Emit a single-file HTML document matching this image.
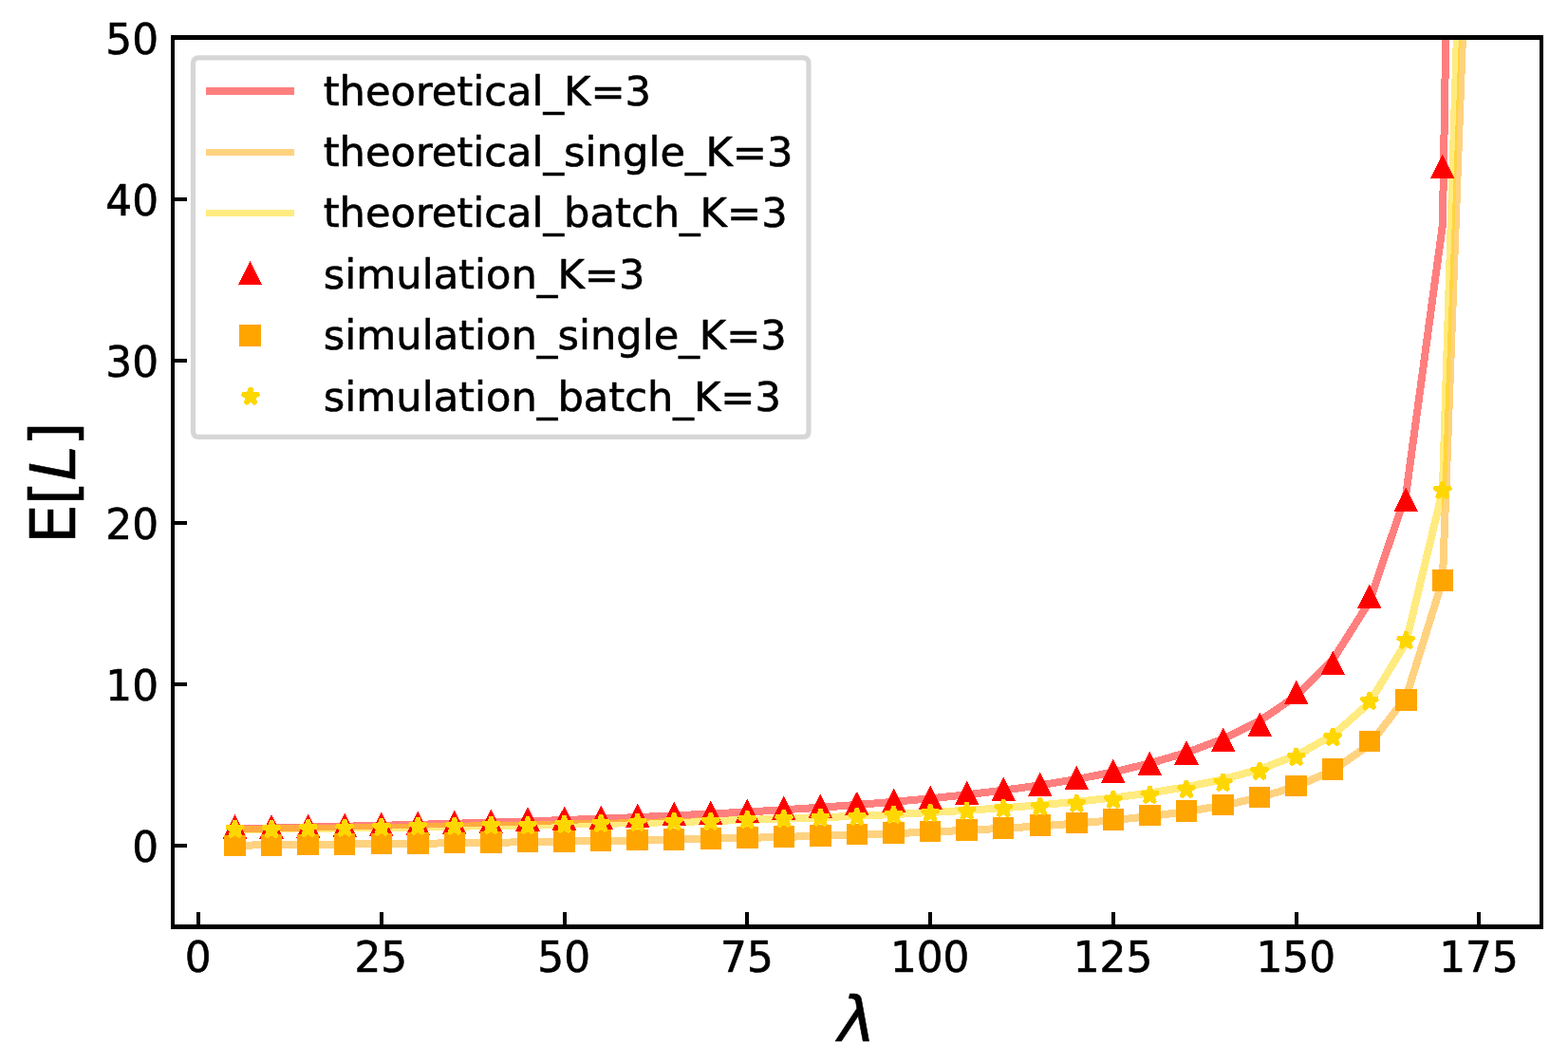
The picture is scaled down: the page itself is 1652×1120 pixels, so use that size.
<!DOCTYPE html>
<html lang="en"><head><meta charset="utf-8"><title>E[L] vs λ</title>
<style>html,body{margin:0;padding:0;background:#fff;}body{width:1652px;height:1120px;overflow:hidden;}svg{display:block;}text{font-family:"DejaVu Sans","Liberation Sans",sans-serif;fill:#000;stroke:#000;stroke-width:0.6px;stroke-linejoin:round;}.t{font-size:43.75px;}.l{font-size:66.67px;}</style></head><body>
<svg width="1652" height="1120" viewBox="0 0 1652 1120">
<rect width="1652" height="1120" fill="#fff"/>
<defs><clipPath id="ax"><rect x="182" y="39.5" width="1442" height="937"/></clipPath></defs>
<g clip-path="url(#ax)" fill="none" stroke-width="8" stroke-linejoin="round" stroke-linecap="square" stroke-opacity="0.5" shape-rendering="crispEdges">
<polyline stroke="#ff0000" points="247.55,873.2 286.1,872.42 324.66,871.6 363.21,870.73 401.77,869.8 440.33,868.81 478.88,867.74 517.44,866.6 555.99,865.37 594.55,864.05 633.11,862.62 671.66,861.06 710.22,859.37 748.78,857.51 787.33,855.48 825.89,853.23 864.44,850.74 903,847.96 941.56,844.84 980.11,841.32 1018.67,837.3 1057.22,832.69 1095.78,827.32 1134.34,821.01 1172.89,813.47 1211.45,804.32 1250.01,792.97 1288.56,778.53 1327.12,759.53 1365.67,733.39 1404.23,695.19 1442.79,634.05 1481.34,520.43 1519.9,236.88 1558.45,-2038.94"/>
<polyline stroke="#ffa500" points="247.55,890.68 286.1,890.34 324.66,889.98 363.21,889.6 401.77,889.19 440.33,888.76 478.88,888.29 517.44,887.79 555.99,887.25 594.55,886.66 633.11,886.03 671.66,885.34 710.22,884.59 748.78,883.77 787.33,882.87 825.89,881.88 864.44,880.77 903,879.54 941.56,878.16 980.11,876.59 1018.67,874.81 1057.22,872.76 1095.78,870.37 1134.34,867.57 1172.89,864.22 1211.45,860.15 1250.01,855.11 1288.56,848.7 1327.12,840.26 1365.67,828.67 1404.23,811.76 1442.79,784.76 1481.34,734.8 1519.9,611.4 1558.45,-437.52"/>
<polyline stroke="#ffd700" points="247.55,873.83 286.1,873.4 324.66,872.94 363.21,872.45 401.77,871.92 440.33,871.37 478.88,870.77 517.44,870.13 555.99,869.45 594.55,868.71 633.11,867.91 671.66,867.04 710.22,866.09 748.78,865.06 787.33,863.92 825.89,862.67 864.44,861.29 903,859.74 941.56,858.01 980.11,856.05 1018.67,853.81 1057.22,851.25 1095.78,848.27 1134.34,844.76 1172.89,840.57 1211.45,835.49 1250.01,829.18 1288.56,821.15 1327.12,810.58 1365.67,796.04 1404.23,774.75 1442.79,740.61 1481.34,676.95 1519.9,516.8 1558.45,-710.1"/>
</g>
<g clip-path="url(#ax)" stroke-width="4.17" shape-rendering="crispEdges">
<path fill="#ff0000" stroke="#ff0000" stroke-width="4.3" stroke-linejoin="miter" stroke-miterlimit="10" d="M247.55 863.03L238.17 881.78L256.92 881.78ZM286.1 863.03L276.73 881.78L295.48 881.78ZM324.66 862.23L315.28 880.98L334.03 880.98ZM363.21 861.23L353.84 879.98L372.59 879.98ZM401.77 860.33L392.4 879.08L411.15 879.08ZM440.33 859.33L430.95 878.08L449.7 878.08ZM478.88 858.43L469.51 877.18L488.26 877.18ZM517.44 857.43L508.06 876.18L526.81 876.18ZM555.99 855.23L546.62 873.98L565.37 873.98ZM594.55 854.23L585.18 872.98L603.93 872.98ZM633.11 853.33L623.73 872.08L642.48 872.08ZM671.66 851.33L662.29 870.08L681.04 870.08ZM710.22 849.23L700.84 867.98L719.59 867.98ZM748.78 848.33L739.4 867.08L758.15 867.08ZM787.33 846.33L777.96 865.08L796.71 865.08ZM825.89 843.33L816.51 862.08L835.26 862.08ZM864.44 841.23L855.07 859.98L873.82 859.98ZM903 838.33L893.62 857.08L912.38 857.08ZM941.56 835.33L932.18 854.08L950.93 854.08ZM980.11 832.33L970.74 851.08L989.49 851.08ZM1018.67 827.23L1009.29 845.98L1028.04 845.98ZM1057.22 823.33L1047.85 842.08L1066.6 842.08ZM1095.78 818.23L1086.41 836.98L1105.16 836.98ZM1134.34 811.23L1124.96 829.98L1143.71 829.98ZM1172.89 804.12L1163.52 822.88L1182.27 822.88ZM1211.45 796.23L1202.07 814.98L1220.82 814.98ZM1250.01 785.23L1240.63 803.98L1259.38 803.98ZM1288.56 771.23L1279.19 789.98L1297.94 789.98ZM1327.12 755.23L1317.74 773.98L1336.49 773.98ZM1365.67 721.23L1356.3 739.98L1375.05 739.98ZM1404.23 690.23L1394.85 708.98L1413.6 708.98ZM1442.79 620.23L1433.41 638.98L1452.16 638.98ZM1481.34 518.23L1471.97 536.98L1490.72 536.98ZM1519.9 167.12L1510.52 185.88L1529.27 185.88Z"/>
<path fill="#ffa500" stroke="#ffa500" stroke-linejoin="miter" d="M238.38 881.68h18.34v18.34h-18.34ZM276.93 881.43h18.34v18.34h-18.34ZM315.49 880.68h18.34v18.34h-18.34ZM354.04 880.33h18.34v18.34h-18.34ZM392.6 879.83h18.34v18.34h-18.34ZM431.16 879.38h18.34v18.34h-18.34ZM469.71 878.93h18.34v18.34h-18.34ZM508.27 878.43h18.34v18.34h-18.34ZM546.82 877.73h18.34v18.34h-18.34ZM585.38 877.23h18.34v18.34h-18.34ZM623.94 876.23h18.34v18.34h-18.34ZM662.49 875.73h18.34v18.34h-18.34ZM701.05 875.23h18.34v18.34h-18.34ZM739.61 874.23h18.34v18.34h-18.34ZM778.16 873.31h18.34v18.34h-18.34ZM816.72 872.32h18.34v18.34h-18.34ZM855.27 871.23h18.34v18.34h-18.34ZM893.83 869.73h18.34v18.34h-18.34ZM932.39 868.33h18.34v18.34h-18.34ZM970.94 866.73h18.34v18.34h-18.34ZM1009.5 865.23h18.34v18.34h-18.34ZM1048.05 863.18h18.34v18.34h-18.34ZM1086.61 860.28h18.34v18.34h-18.34ZM1125.17 857.78h18.34v18.34h-18.34ZM1163.72 854.08h18.34v18.34h-18.34ZM1202.28 849.98h18.34v18.34h-18.34ZM1240.84 845.28h18.34v18.34h-18.34ZM1279.39 838.83h18.34v18.34h-18.34ZM1317.95 830.78h18.34v18.34h-18.34ZM1356.5 818.83h18.34v18.34h-18.34ZM1395.06 801.28h18.34v18.34h-18.34ZM1433.62 771.73h18.34v18.34h-18.34ZM1472.17 728.23h18.34v18.34h-18.34ZM1510.73 602.23h18.34v18.34h-18.34Z"/>
<path fill="#ffd700" stroke="#ffd700" stroke-linejoin="bevel" d="M247.55 864.73L245.44 871.2L238.63 871.2L244.14 875.21L242.03 881.68L247.55 877.68L253.06 881.68L250.95 875.21L256.46 871.2L249.65 871.2ZM286.1 864.73L284 871.2L277.19 871.2L282.7 875.21L280.59 881.68L286.1 877.68L291.61 881.68L289.51 875.21L295.02 871.2L288.21 871.2ZM324.66 863.73L322.55 870.2L315.74 870.2L321.25 874.21L319.15 880.68L324.66 876.68L330.17 880.68L328.06 874.21L333.57 870.2L326.76 870.2ZM363.21 863.23L361.11 869.7L354.3 869.7L359.81 873.71L357.7 880.18L363.21 876.18L368.72 880.18L366.62 873.71L372.13 869.7L365.32 869.7ZM401.77 862.52L399.67 869L392.85 869L398.36 873.01L396.26 879.48L401.77 875.48L407.28 879.48L405.18 873.01L410.69 869L403.87 869ZM440.33 861.52L438.22 868L431.41 868L436.92 872.01L434.82 878.48L440.33 874.48L445.84 878.48L443.73 872.01L449.24 868L442.43 868ZM478.88 861.52L476.78 868L469.97 868L475.48 872.01L473.37 878.48L478.88 874.48L484.39 878.48L482.29 872.01L487.8 868L480.99 868ZM517.44 860.62L515.33 867.1L508.52 867.1L514.03 871.11L511.93 877.58L517.44 873.58L522.95 877.58L520.84 871.11L526.35 867.1L519.54 867.1ZM555.99 860.62L553.89 867.1L547.08 867.1L552.59 871.11L550.48 877.58L555.99 873.58L561.51 877.58L559.4 871.11L564.91 867.1L558.1 867.1ZM594.55 859.62L592.45 866.1L585.63 866.1L591.15 870.11L589.04 876.58L594.55 872.58L600.06 876.58L597.96 870.11L603.47 866.1L596.66 866.1ZM633.11 858.62L631 865.1L624.19 865.1L629.7 869.11L627.6 875.58L633.11 871.58L638.62 875.58L636.51 869.11L642.02 865.1L635.21 865.1ZM671.66 857.62L669.56 864.1L662.75 864.1L668.26 868.11L666.15 874.58L671.66 870.58L677.17 874.58L675.07 868.11L680.58 864.1L673.77 864.1ZM710.22 856.62L708.11 863.1L701.3 863.1L706.81 867.11L704.71 873.58L710.22 869.58L715.73 873.58L713.62 867.11L719.14 863.1L712.32 863.1ZM748.78 856.62L746.67 863.1L739.86 863.1L745.37 867.11L743.26 873.58L748.78 869.58L754.29 873.58L752.18 867.11L757.69 863.1L750.88 863.1ZM787.33 854.73L785.23 861.2L778.42 861.2L783.93 865.21L781.82 871.68L787.33 867.68L792.84 871.68L790.74 865.21L796.25 861.2L789.44 861.2ZM825.89 853.73L823.78 860.2L816.97 860.2L822.48 864.21L820.38 870.68L825.89 866.68L831.4 870.68L829.29 864.21L834.8 860.2L827.99 860.2ZM864.44 852.52L862.34 859L855.53 859L861.04 863.01L858.93 869.48L864.44 865.48L869.95 869.48L867.85 863.01L873.36 859L866.55 859ZM903 851.52L900.9 858L894.08 858L899.59 862.01L897.49 868.48L903 864.48L908.51 868.48L906.41 862.01L911.92 858L905.1 858ZM941.56 849.62L939.45 856.1L932.64 856.1L938.15 860.11L936.05 866.58L941.56 862.58L947.07 866.58L944.96 860.11L950.47 856.1L943.66 856.1ZM980.11 847.62L978.01 854.1L971.2 854.1L976.71 858.11L974.6 864.58L980.11 860.58L985.62 864.58L983.52 858.11L989.03 854.1L982.22 854.1ZM1018.67 845.62L1016.56 852.1L1009.75 852.1L1015.26 856.11L1013.16 862.58L1018.67 858.58L1024.18 862.58L1022.07 856.11L1027.58 852.1L1020.77 852.1ZM1057.22 842.73L1055.12 849.2L1048.31 849.2L1053.82 853.21L1051.71 859.68L1057.22 855.68L1062.74 859.68L1060.63 853.21L1066.14 849.2L1059.33 849.2ZM1095.78 840.73L1093.68 847.2L1086.86 847.2L1092.38 851.21L1090.27 857.68L1095.78 853.68L1101.29 857.68L1099.19 851.21L1104.7 847.2L1097.89 847.2ZM1134.34 837.62L1132.23 844.1L1125.42 844.1L1130.93 848.11L1128.83 854.58L1134.34 850.58L1139.85 854.58L1137.74 848.11L1143.25 844.1L1136.44 844.1ZM1172.89 833.62L1170.79 840.1L1163.98 840.1L1169.49 844.11L1167.38 850.58L1172.89 846.58L1178.4 850.58L1176.3 844.11L1181.81 840.1L1175 840.1ZM1211.45 828.62L1209.34 835.1L1202.53 835.1L1208.04 839.11L1205.94 845.58L1211.45 841.58L1216.96 845.58L1214.85 839.11L1220.37 835.1L1213.55 835.1ZM1250.01 822.52L1247.9 829L1241.09 829L1246.6 833.01L1244.49 839.48L1250.01 835.48L1255.52 839.48L1253.41 833.01L1258.92 829L1252.11 829ZM1288.56 815.62L1286.46 822.1L1279.65 822.1L1285.16 826.11L1283.05 832.58L1288.56 828.58L1294.07 832.58L1291.97 826.11L1297.48 822.1L1290.67 822.1ZM1327.12 803.52L1325.01 810L1318.2 810L1323.71 814.01L1321.61 820.48L1327.12 816.48L1332.63 820.48L1330.52 814.01L1336.03 810L1329.22 810ZM1365.67 788.52L1363.57 795L1356.76 795L1362.27 799.01L1360.16 805.48L1365.67 801.48L1371.18 805.48L1369.08 799.01L1374.59 795L1367.78 795ZM1404.23 767.62L1402.13 774.1L1395.31 774.1L1400.82 778.11L1398.72 784.58L1404.23 780.58L1409.74 784.58L1407.64 778.11L1413.15 774.1L1406.33 774.1ZM1442.79 729.62L1440.68 736.1L1433.87 736.1L1439.38 740.11L1437.28 746.58L1442.79 742.58L1448.3 746.58L1446.19 740.11L1451.7 736.1L1444.89 736.1ZM1481.34 665.62L1479.24 672.1L1472.43 672.1L1477.94 676.11L1475.83 682.58L1481.34 678.58L1486.85 682.58L1484.75 676.11L1490.26 672.1L1483.45 672.1ZM1519.9 507.42L1517.79 513.9L1510.98 513.9L1516.49 517.91L1514.39 524.38L1519.9 520.38L1525.41 524.38L1523.3 517.91L1528.81 513.9L1522 513.9Z"/>
</g>
<g stroke="#000" stroke-width="4" fill="none" shape-rendering="crispEdges">
<line x1="209" y1="976.5" x2="209" y2="961"/>
<line x1="402" y1="976.5" x2="402" y2="961"/>
<line x1="595" y1="976.5" x2="595" y2="961"/>
<line x1="787" y1="976.5" x2="787" y2="961"/>
<line x1="980" y1="976.5" x2="980" y2="961"/>
<line x1="1173" y1="976.5" x2="1173" y2="961"/>
<line x1="1366" y1="976.5" x2="1366" y2="961"/>
<line x1="1558" y1="976.5" x2="1558" y2="961"/>
<line x1="182" y1="891" x2="197" y2="891"/>
<line x1="182" y1="721" x2="197" y2="721"/>
<line x1="182" y1="551" x2="197" y2="551"/>
<line x1="182" y1="380" x2="197" y2="380"/>
<line x1="182" y1="210" x2="197" y2="210"/>
<line x1="182" y1="40" x2="197" y2="40"/>
</g>
<g fill="#000" shape-rendering="crispEdges">
<rect x="180" y="37" width="4" height="942"/>
<rect x="1622" y="37" width="4" height="942"/>
<rect x="180" y="37" width="1446" height="5"/>
<rect x="180" y="974" width="1446" height="5"/>
</g>
<g class="t">
<text x="208.59" y="1024.3" text-anchor="middle">0</text>
<text x="401.37" y="1024.3" text-anchor="middle">25</text>
<text x="594.15" y="1024.3" text-anchor="middle">50</text>
<text x="786.93" y="1024.3" text-anchor="middle">75</text>
<text x="979.71" y="1024.3" text-anchor="middle">100</text>
<text x="1172.49" y="1024.3" text-anchor="middle">125</text>
<text x="1365.27" y="1024.3" text-anchor="middle">150</text>
<text x="1558.05" y="1024.3" text-anchor="middle">175</text>
<text x="167" y="908.2" text-anchor="end">0</text>
<text x="167" y="738.2" text-anchor="end">10</text>
<text x="167" y="568.2" text-anchor="end">20</text>
<text x="167" y="397.2" text-anchor="end">30</text>
<text x="167" y="227.2" text-anchor="end">40</text>
<text x="167" y="57.2" text-anchor="end">50</text>
</g>
<text class="l" x="882.9" y="1096.9" font-style="italic">λ</text>
<text class="l" transform="translate(79.1 573.24) rotate(-90)" x="0 40.84 66.74 103.04" y="0">E[<tspan font-style="italic">L</tspan>]</text>
<path d="M209.5 60.9L846 60.9Q852 60.9 852 66.9L852 454.4Q852 460.4 846 460.4L209.5 460.4Q203.5 460.4 203.5 454.4L203.5 66.9Q203.5 60.9 209.5 60.9Z" fill="#fff" fill-opacity="0.8" stroke="#ccc" stroke-opacity="0.8" stroke-width="5.2" stroke-linejoin="miter"/>
<g fill="none" stroke-opacity="0.5" shape-rendering="crispEdges">
<line x1="217" y1="96" x2="309.9" y2="96" stroke="#ff0000" stroke-width="8"/>
<line x1="217" y1="160.5" x2="309.9" y2="160.5" stroke="#ffa500" stroke-width="7"/>
<line x1="217" y1="224.5" x2="309.9" y2="224.5" stroke="#ffd700" stroke-width="7"/>
</g>
<g stroke-width="4.17" shape-rendering="crispEdges">
<path fill="#ff0000" stroke="#ff0000" stroke-width="4.3" stroke-linejoin="miter" stroke-miterlimit="10" d="M263.5 279.43L254.12 298.18L272.88 298.18Z"/>
<path fill="#ffa500" stroke="#ffa500" stroke-linejoin="miter" d="M254.33 344.33h18.34v18.34h-18.34Z"/>
<path fill="#ffd700" stroke="#ffd700" stroke-linejoin="bevel" d="M264 408.43L261.9 414.9L255.08 414.9L260.59 418.91L258.49 425.38L264 421.38L269.51 425.38L267.41 418.91L272.92 414.9L266.1 414.9Z"/>
</g>
<g style="font-size:43.2px">
<text x="340.7" y="110.8">theoretical_K=3</text>
<text x="340.7" y="175.2">theoretical_single_K=3</text>
<text x="340.7" y="239.4">theoretical_batch_K=3</text>
<text x="340.7" y="303.7">simulation_K=3</text>
<text x="340.7" y="368.2">simulation_single_K=3</text>
<text x="340.7" y="432.6">simulation_batch_K=3</text>
</g>
</svg></body></html>
